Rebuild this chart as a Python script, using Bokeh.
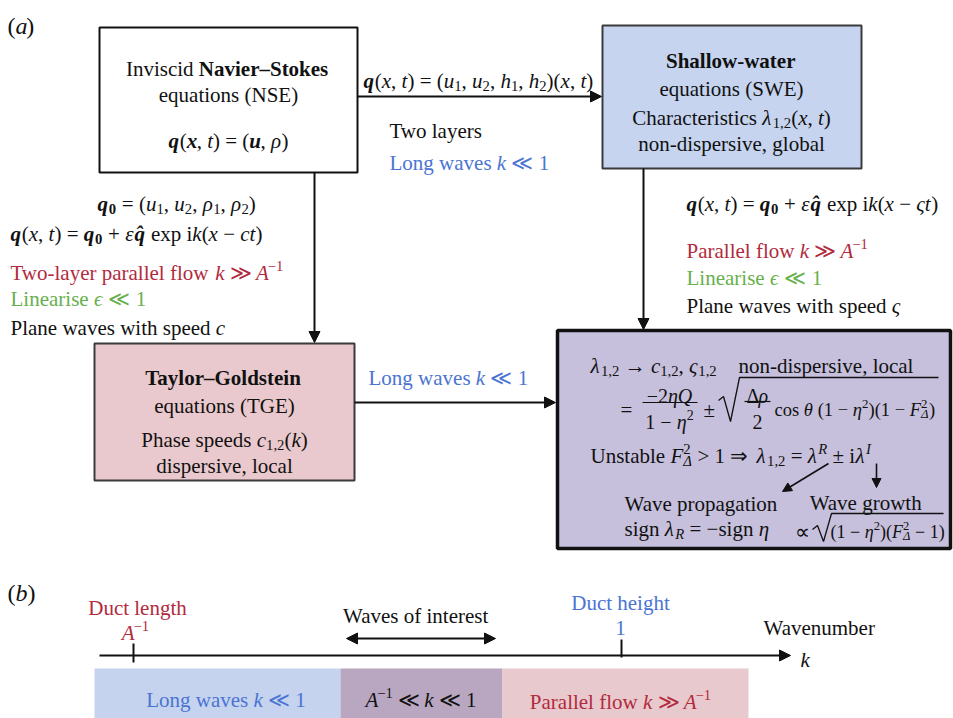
from bokeh.plotting import figure
from bokeh.models import ColumnDataSource, Range1d, Arrow, NormalHead
from bokeh.core.properties import value, field
from bokeh.embed import file_html
from bokeh.resources import INLINE

# ---------------------------------------------------------------- palette
BLACK = "#111111"
RED = "#b22a3d"
BLUE = "#4b74d2"
GREEN = "#67b04c"
SWE_FILL = "#c6d4ef"
TGE_FILL = "#e9c9cd"
LIN_FILL = "#c6c0dc"

# wavenumber bands drawn under the k axis (b)
band_names = ["long", "interest", "parallel"]
band_left = [94, 340, 502]
band_right = [340, 502, 748]
band_fill = ["#c5d3ef", "#b9a6c1", "#e8c9cd"]

FONT = "Liberation Serif"
BASE = 21

# approximate Times advance widths (per em) for placing text runs
_W = {}
for chars, w in [(" \u00a0,.", 0.25), ("iltj:;", 0.278), ("()frI[]-", 0.333), ("s", 0.389),
                 ("acez", 0.444), ("bdghknopquvxy0123456789", 0.5), ("FPS", 0.556),
                 ("=+<>−±", 0.564), ("ELTZ", 0.611), ("BCR", 0.667),
                 ("ADGHKNOQUVXYw", 0.722), ("m", 0.778), ("M", 0.889), ("W", 0.944),
                 ("–", 0.5), ("→⇒", 1.0), ("≪≫", 1.0), ("λρηθ", 0.5), ("εϵς", 0.44),
                 ("Δ", 0.61), ("∝", 0.7), ("\u0302", 0.0)]:
    for ch in chars:
        _W[ch] = w
_WI = dict(_W)
for chars, w in [("A", 0.56), ("FRT", 0.611), ("kvxyc", 0.444), ("I", 0.333)]:
    for ch in chars:
        _WI[ch] = w


def text_width(txt, bold, ital):
    table = _WI if ital else _W
    w = sum(table.get(ch, 0.5) for ch in txt)
    return w * (1.07 if bold else 1.0)


rows = dict(x=[], y=[], text=[], style=[], size=[], color=[])


def put(segs, x, y, align="left", color=BLACK, size=BASE):
    items = []
    cx = 0.0
    for txt, st in segs:
        txt = txt.replace(" ", "\u00a0")
        bold = "b" in st
        ital = "i" in st
        sub = "_" in st
        sup = "^" in st
        fs = size * 0.7 if (sub or sup) else size
        dy = size * 0.25 if sub else (-size * 0.32 if sup else 0.0)
        style = ("bold italic" if ital else "bold") if bold else ("italic" if ital else "normal")
        items.append((cx, dy, txt, style, fs))
        if "0" not in st:
            cx += text_width(txt, bold, ital) * fs
    x0 = x - cx / 2 if align == "center" else (x - cx if align == "right" else x)
    for ox, dy, txt, style, fs in items:
        rows["x"].append(x0 + ox)
        rows["y"].append(y + dy)
        rows["text"].append(txt)
        rows["style"].append(style)
        rows["size"].append(f"{fs:.1f}px")
        rows["color"].append(color)


def R(t):
    return (t, "r")


def I(t):
    return (t, "i")


p = figure(width=953, height=718, x_range=Range1d(0, 953), y_range=Range1d(718, 0),
           output_backend="svg", toolbar_location=None, min_border=0)
p.axis.visible = False
p.grid.visible = False
p.outline_line_color = None
p.background_fill_color = "white"
p.border_fill_color = "white"

# ---------------------------------------------------------------- boxes (a)
p.quad(left=[99], right=[357], top=[27], bottom=[172], fill_color="white",
       line_color=BLACK, line_width=2)
p.quad(left=[602], right=[861], top=[25], bottom=[168], fill_color=SWE_FILL,
       line_color="#3a3a3a", line_width=2)
p.quad(left=[94], right=[354], top=[343], bottom=[480], fill_color=TGE_FILL,
       line_color="#3a3a3a", line_width=2)
p.quad(left=[557], right=[950], top=[330], bottom=[548], fill_color=LIN_FILL,
       line_color=BLACK, line_width=3.5)

# ---------------------------------------------------------------- bands (b)
p.quad(left=band_left, right=band_right, top=[668] * 3, bottom=[718] * 3,
       fill_color=band_fill, line_color=None)


def arrow(x0, y0, x1, y1, lw=2, hs=11, start=False):
    p.add_layout(Arrow(x_start=x0, y_start=y0, x_end=x1, y_end=y1, line_width=lw,
                       line_color=BLACK,
                       end=NormalHead(size=hs, fill_color=BLACK, line_color=BLACK, line_width=1),
                       start=NormalHead(size=hs, fill_color=BLACK, line_color=BLACK,
                                        line_width=1) if start else None))


arrow(357, 96, 601, 96)
arrow(314, 172, 314, 342)
arrow(643, 168, 643, 329)
arrow(354, 402, 555, 402)
arrow(828, 463, 782, 491, lw=1.6, hs=9)
arrow(876, 463, 876, 487, lw=1.6, hs=9)
arrow(99, 655, 790, 655)
arrow(346, 638, 495, 638, start=True)

# ticks on the k axis
p.segment(x0=[133, 621], y0=[643, 639], x1=[133, 621], y1=[662, 657],
          line_color=BLACK, line_width=2)

# fraction bars and radicals
p.segment(x0=[642, 744], y0=[402, 401], x1=[697, 770], y1=[402, 401],
          line_color=BLACK, line_width=1.2)
p.line([718, 723, 730, 739, 938], [400, 396, 421, 377, 377], line_color=BLACK, line_width=1.3)
p.line([812, 817, 823, 831, 943], [529, 525, 541, 513, 513], line_color=BLACK, line_width=1.3)

# ---------------------------------------------------------------- text (a)
put([R("("), I("a"), R(")")], 7, 25, size=24)

put([R("Inviscid "), ("Navier–Stokes", "b")], 228, 68, "center")
put([R("equations (NSE)")], 228, 94, "center")
put([("q", "bi"), R("("), ("x", "bi"), R(", "), I("t"), R(") = ("), ("u", "bi"), R(", "),
     I("ρ"), R(")")], 228, 140, "center")

put([("q", "bi"), R("("), I("x"), R(", "), I("t"), R(") = ("), I("u"), ("1", "r_"), R(", "),
     I("u"), ("2", "r_"), R(", "), I("h"), ("1", "r_"), R(", "), I("h"), ("2", "r_"),
     R(")("), I("x"), R(", "), I("t"), R(")")], 363, 80)
put([R("Two layers")], 389, 130)
put([R("Long waves "), I("k"), R(" ≪ 1")], 389, 162, color=BLUE)

put([("Shallow-water", "b")], 731, 60, "center")
put([R("equations (SWE)")], 731, 88, "center")
put([R("Characteristics "), I("λ"), ("1,2", "r_"), R("("), I("x"), R(", "), I("t"), R(")")],
    731, 117, "center")
put([R("non-dispersive, global")], 731, 143, "center")

put([("q", "bi"), R("("), I("x"), R(", "), I("t"), R(") = "), ("q", "bi"), ("0", "b_"),
     R(" + "), I("ε"), ("q\u0302", "bi"), R(" exp i"), I("k"), R("("), I("x"), R(" − "),
     I("ςt"), R(")")], 686, 203)
put([R("Parallel flow "), I("k"), R(" ≫ "), I("A"), ("−1", "r^")], 686, 250, color=RED)
put([R("Linearise "), I("ϵ"), R(" ≪ 1")], 686, 277, color=GREEN)
put([R("Plane waves with speed "), I("ς")], 686, 305)

put([("q", "bi"), ("0", "b_"), R(" = ("), I("u"), ("1", "r_"), R(", "), I("u"), ("2", "r_"),
     R(", "), I("ρ"), ("1", "r_"), R(", "), I("ρ"), ("2", "r_"), R(")")], 97, 203)
put([("q", "bi"), R("("), I("x"), R(", "), I("t"), R(") = "), ("q", "bi"), ("0", "b_"),
     R(" + "), I("ε"), ("q\u0302", "bi"), R(" exp i"), I("k"), R("("), I("x"), R(" − "),
     I("ct"), R(")")], 10, 233)
put([R("Two-layer parallel flow "), I("k"), R(" ≫ "), I("A"), ("−1", "r^")], 10, 272, color=RED)
put([R("Linearise "), I("ϵ"), R(" ≪ 1")], 10, 298, color=GREEN)
put([R("Plane waves with speed "), I("c")], 10, 327)

put([("Taylor–Goldstein", "b")], 224, 377, "center")
put([R("equations (TGE)")], 224, 405, "center")
put([R("Phase speeds "), I("c"), ("1,2", "r_"), R("("), I("k"), R(")")], 224, 439, "center")
put([R("dispersive, local")], 224, 465, "center")

put([R("Long waves "), I("k"), R(" ≪ 1")], 368, 377, color=BLUE)

put([I("λ"), ("1,2", "r_"), R(" → "), I("c"), ("1,2", "r_"), R(", "), I("ς"), ("1,2", "r_")],
    590, 365)
put([R("non-dispersive, local")], 738, 365)
put([R("=")], 620, 409)
put([R("−2"), I("ηQ")], 669, 395, "center", size=20)
put([R("1 − "), I("η"), ("2", "r^")], 669, 421, "center", size=20)
put([R("±")], 703, 409)
put([R("Δ"), I("ρ")], 757, 395, "center", size=20)
put([R("2")], 757, 421, "center", size=20)
put([R("cos "), I("θ"), R(" (1 − "), I("η"), ("2", "r^"), R(")(1 − "), I("F"), ("2", "r^0"),
     ("Δ", "i_"), R(")")], 774, 409, size=18.5)

put([R("Unstable "), I("F"), ("2", "r^0"), ("Δ", "i_"), R(" > 1 ⇒ "), I("λ"), ("1,2", "r_"),
     R(" = "), I("λ"), ("R", "i^"), R(" ± i"), I("λ"), ("I", "i^")], 590, 455)
put([R("Wave propagation")], 624, 503)
put([R("sign "), I("λ"), ("R", "i_"), R(" = −sign "), I("η")], 624, 528)
put([R("Wave growth")], 866, 502, "center")
put([R("∝")], 794, 531)
put([R("(1 − "), I("η"), ("2", "r^"), R(")("), I("F"), ("2", "r^0"), ("Δ", "i_"), R(" − 1)")],
    830, 531, size=18)

# ---------------------------------------------------------------- text (b)
put([R("("), I("b"), R(")")], 7, 592, size=24)
put([R("Duct length")], 137, 607, "center", color=RED)
put([I("A"), ("−1", "r^")], 135, 632, "center", color=RED)
put([R("Waves of interest")], 416, 615, "center")
put([R("Duct height")], 620, 602, "center", color=BLUE)
put([R("1")], 620, 627, "center", color=BLUE)
put([R("Wavenumber")], 763, 627)
put([I("k")], 800, 659)

put([R("Long waves "), I("k"), R(" ≪ 1")], 225, 699, "center", color=BLUE)
put([I("A"), ("−1", "r^"), R(" ≪ "), I("k"), R(" ≪ 1")], 420, 699, "center")
put([R("Parallel flow "), I("k"), R(" ≫ "), I("A"), ("−1", "r^")], 620, 701, "center", color=RED)

src = ColumnDataSource(rows)
p.text(x="x", y="y", text="text", source=src, text_font=value(FONT),
       text_font_style=field("style"), text_font_size=field("size"),
       text_color=field("color"), text_align="left", text_baseline="alphabetic")

open("out.html", "w").write(file_html(p, INLINE))
